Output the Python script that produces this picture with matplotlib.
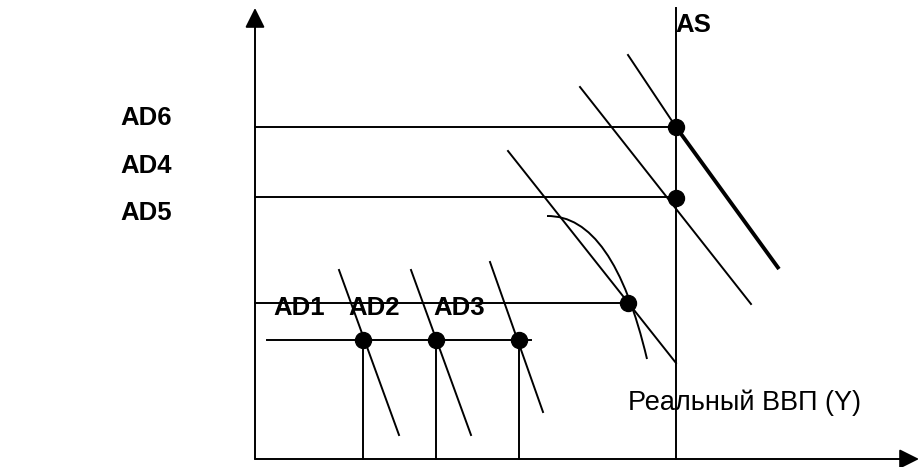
import matplotlib
matplotlib.use('Agg')
import matplotlib.pyplot as plt
from matplotlib.path import Path
from matplotlib.patches import PathPatch

plt.rcParams['font.family'] = ['Liberation Sans', 'DejaVu Sans']

# everything is in picture units: x to the right, y downwards
origin = (255, 459)
axis_top = 8
axis_right = 919
as_x = 676

# horizontal guides from the price axis to the equilibria
guide_y = [127, 197, 303]
guide_end = [676, 676, 628]

# lower price level with three short-run equilibria
low_y = 340
low_span = (267, 531)
eq_x = [363, 436, 519]

# upper equilibria on AS / on the curve
top_pts_x = [676, 676, 628]
top_pts_y = [127, 198, 303]

# AD lines (start -> end)
ad_x0 = [339, 411, 490, 508, 580, 628]
ad_y0 = [270, 270, 262, 151, 87, 55]
ad_x1 = [399, 471, 543, 676, 751, 676]
ad_y1 = [435, 435, 412, 363, 304, 127]
thick_seg = ([676, 779], [127, 269])

# bent curve: start, control, end
curve_pts = [(547, 216), (613, 215), (647, 359)]

low_labels = ['AD1', 'AD2', 'AD3']
low_label_x = [273, 348, 433]
side_labels = ['AD6', 'AD4', 'AD5']
side_label_y = [118, 166, 213]

fig = plt.figure(figsize=(9.19, 4.67), dpi=100)
ax = fig.add_axes([0, 0, 1, 1])
ax.set_xlim(0, 919)
ax.set_ylim(467, 0)
ax.set_axis_off()

lw = 1.4
arrow = dict(arrowstyle='-|>,head_length=0.8,head_width=0.4', lw=lw,
             color='k', shrinkA=0, shrinkB=0, mutation_scale=15)
ax.annotate('', xy=(origin[0], axis_top), xytext=origin, arrowprops=arrow)
ax.annotate('', xy=(axis_right, origin[1]), xytext=origin, arrowprops=arrow)

# AS
ax.plot([as_x, as_x], [axis_top, origin[1]], color='k', lw=lw)

for y, xe in zip(guide_y, guide_end):
    ax.plot([origin[0], xe], [y, y], color='k', lw=lw)

ax.plot(low_span, [low_y, low_y], color='k', lw=lw)
for x in eq_x:
    ax.plot([x, x], [low_y, origin[1]], color='k', lw=lw)

for x0, y0, x1, y1 in zip(ad_x0, ad_y0, ad_x1, ad_y1):
    ax.plot([x0, x1], [y0, y1], color='k', lw=lw)
ax.plot(*thick_seg, color='k', lw=2.8, solid_capstyle='butt')

path = Path(curve_pts, [Path.MOVETO, Path.CURVE3, Path.CURVE3])
ax.add_patch(PathPatch(path, fc='none', ec='k', lw=lw))

ax.plot(eq_x, [low_y] * len(eq_x), 'o', color='k', ms=11.5, ls='none')
ax.plot(top_pts_x, top_pts_y, 'o', color='k', ms=11.5, ls='none')

for s, x in zip(low_labels, low_label_x):
    ax.text(x, 308, s, fontsize=18.5, fontweight='bold', ha='left', va='center')
for s, y in zip(side_labels, side_label_y):
    ax.text(120, y, s, fontsize=18.5, fontweight='bold', ha='left', va='center')
ax.text(675, 25, 'AS', fontsize=18.5, fontweight='bold', ha='left', va='center')
ax.text(628, 403, 'Реальный ВВП (Y)', fontsize=19.5, ha='left', va='center')

fig.savefig('out.png', dpi=100)
